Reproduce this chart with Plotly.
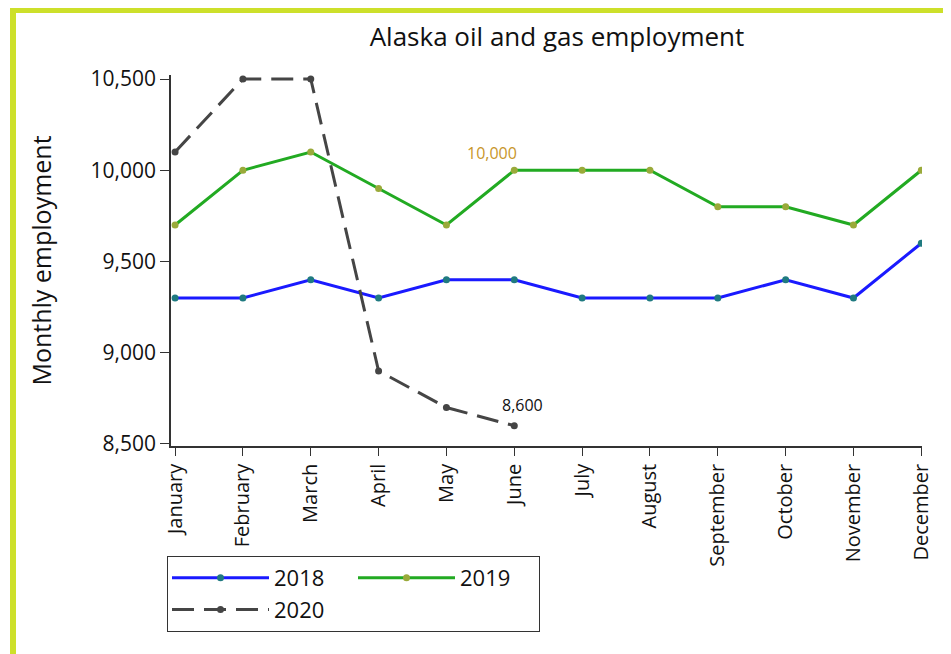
import plotly.graph_objects as go

months = ["January", "February", "March", "April", "May", "June", "July",
          "August", "September", "October", "November", "December"]
emp_2018 = [9300, 9300, 9400, 9300, 9400, 9400, 9300, 9300, 9300, 9400, 9300, 9600]
emp_2019 = [9700, 10000, 10100, 9900, 9700, 10000, 10000, 10000, 9800, 9800, 9700, 10000]
emp_2020 = [10100, 10500, 10500, 8900, 8700, 8600]
y_ticks = [8500, 9000, 9500, 10000, 10500]
y_tick_labels = ["8,500", "9,000", "9,500", "10,000", "10,500"]

# page body offset of 8px: screen coords -> figure coords
OFF = 8
W, H = 951, 654
L, T = 171 - OFF, 75 - OFF
R = W - (922 - OFF)
B = H - (446 - OFF)
pw, ph = W - L - R, H - T - B

def px_x(p):
    return (p - OFF - L) / pw

def px_y(p):
    return (H - B - (p - OFF)) / ph

FONT = "'Open Sans', Lato, sans-serif"
TXT = "#111111"
xi = list(range(len(months)))

fig = go.Figure()
fig.add_trace(go.Scatter(
    x=xi, y=emp_2018, name="2018", mode="lines+markers",
    line=dict(color="#1a1aff", width=3),
    marker=dict(color="#1f7a80", size=7),
    legendgroup="a"))
fig.add_trace(go.Scatter(
    x=xi[:len(emp_2020)], y=emp_2020, name="2020", mode="lines+markers",
    line=dict(color="#454545", width=3, dash="22px,10px"),
    marker=dict(color="#454545", size=7),
    legendgroup="a"))
fig.add_trace(go.Scatter(
    x=xi, y=emp_2019, name="2019", mode="lines+markers",
    line=dict(color="#22aa22", width=3),
    marker=dict(color="#9aaa3a", size=7),
    legendgroup="b"))

fig.add_annotation(x=5, y=emp_2019[5], text="10,000", showarrow=False,
                   xanchor="right", yanchor="bottom", xshift=5, yshift=4,
                   font=dict(color="#c8962a", size=16, family=FONT))
fig.add_annotation(x=5, y=emp_2020[5], text="8,600", showarrow=False,
                   xanchor="left", yanchor="bottom", xshift=-14, yshift=8,
                   font=dict(color=TXT, size=16, family=FONT))

# outer frame
fig.add_shape(type="rect", xref="paper", yref="paper",
              x0=px_x(13), x1=px_x(947), y0=px_y(675), y1=px_y(10),
              line=dict(color="#cde02a", width=6), fillcolor="rgba(0,0,0,0)",
              layer="below")

fig.update_layout(
    width=W, height=H,
    margin=dict(l=L, r=R, t=T, b=B),
    paper_bgcolor="white", plot_bgcolor="white",
    font=dict(family=FONT, color=TXT),
    title=dict(text="Alaska oil and gas employment", x=(557 - OFF) / W,
               xanchor="center", y=1 - (37 - OFF) / H, yanchor="middle",
               font=dict(size=26, family=FONT, color=TXT)),
    showlegend=True,
    legend=dict(orientation="h", traceorder="grouped",
                x=px_x(167), y=px_y(556), xanchor="left", yanchor="top",
                bordercolor="#333333", borderwidth=1,
                font=dict(size=22, family=FONT, color=TXT),
                itemwidth=97, entrywidth=74, tracegroupgap=2, bgcolor="white"),
    xaxis=dict(range=[-0.06, 11.01], tickmode="array", tickvals=xi, ticktext=months,
               tickangle=-90, ticks="outside", ticklen=8, tickcolor="#333333",
               showline=True, linecolor="#333333", linewidth=1.5,
               showgrid=False, zeroline=False, automargin=False,
               tickfont=dict(size=20, family=FONT, color=TXT)),
    yaxis=dict(range=[8489, 10522], tickmode="array", tickvals=y_ticks,
               ticktext=y_tick_labels, ticks="outside", ticklen=9,
               tickcolor="#333333", showline=True, linecolor="#333333",
               linewidth=1.5, showgrid=False, zeroline=False, automargin=False,
               tickfont=dict(size=21, family=FONT, color=TXT),
               title=dict(text="Monthly employment", standoff=32,
                          font=dict(size=25, family=FONT, color=TXT))),
)

fig.write_html("out.html")
